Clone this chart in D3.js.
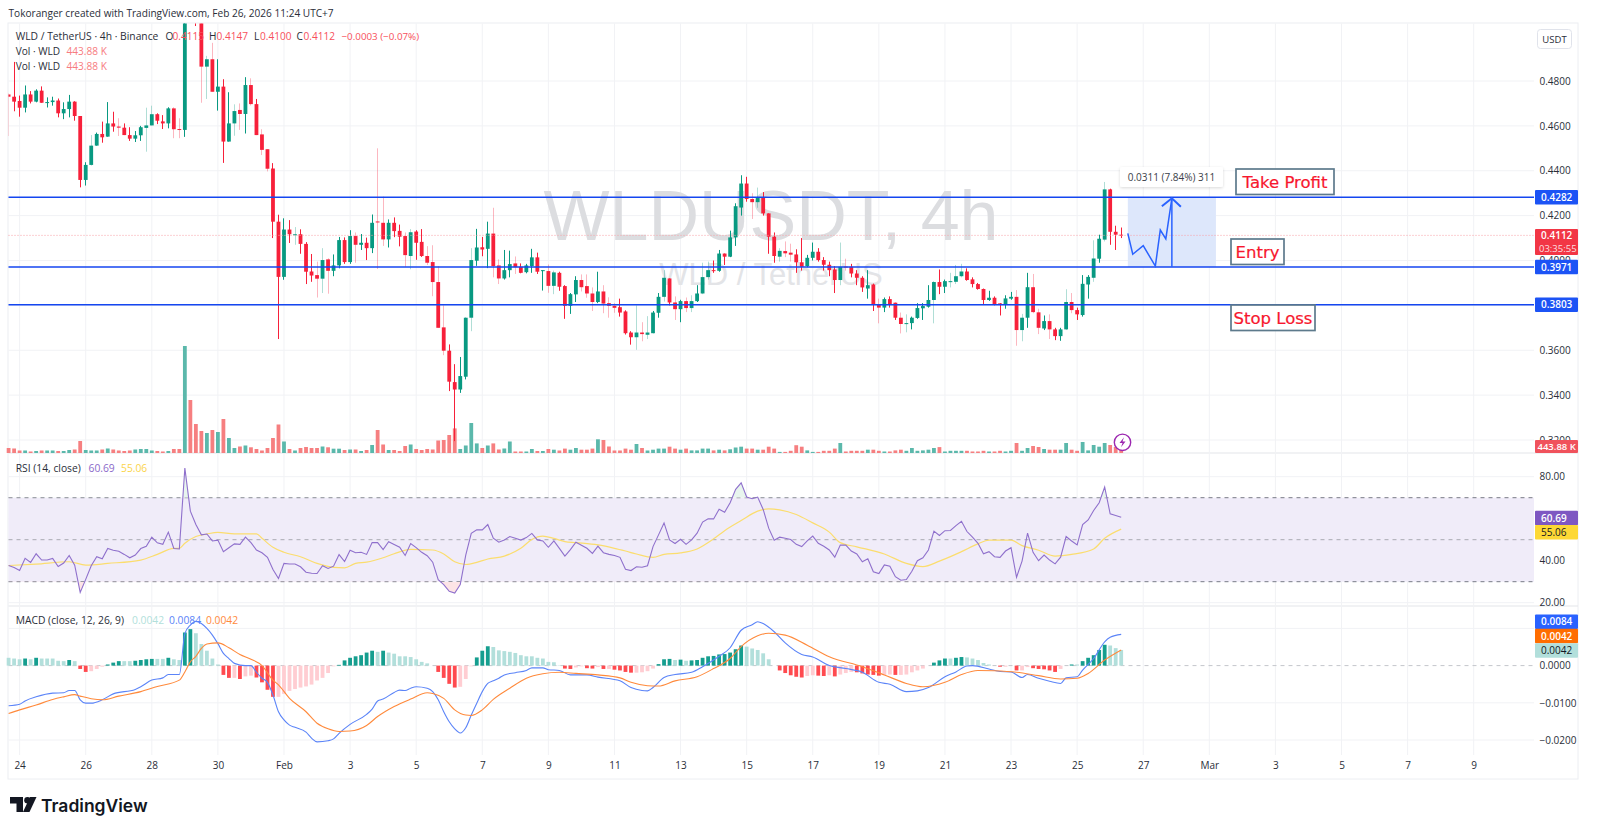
<!DOCTYPE html>
<html>
<head>
<meta charset="utf-8">
<title>WLDUSDT 4h</title>
<script src="https://cdn.jsdelivr.net/npm/d3@7/dist/d3.min.js"></script>
<style>
  html, body { margin: 0; padding: 0; background: #fff; }
  svg { display: block; }
  text { font-family: "Open Sans", sans-serif; }
</style>
</head>
<body>
<script>
// candles, one row per 10 bars
var opens = [
  .4740,.4730,.4711,.4681,.4740,.4708,.4757,.4703,.4706,.4713,
  .4656,.4675,.4708,.4644,.4359,.4426,.4512,.4564,.4552,.4611,
  .4597,.4592,.4559,.4543,.4558,.4591,.4602,.4652,.4620,.4611,
  .4678,.4586,.4582,.5250,.5120,.5095,.4864,.4897,.4752,.4775,
  .4530,.4611,.4671,.4653,.4782,.4697,.4562,.4496,.4410,.4173,
  .3927,.4138,.4115,.4117,.4074,.3951,.3935,.3919,.4005,.3954,
  .3978,.4091,.3993,.4109,.4070,.4079,.4055,.4174,.4168,.4094,
  .4168,.4132,.4109,.4020,.4129,.4083,.4020,.3993,.3904,.3702,
  .3598,.3458,.3425,.3482,.3745,.3999,.4059,.4052,.4120,.3978,
  .3920,.3957,.3987,.3972,.3948,.3975,.4014,.3954,.3953,.3887,
  .3945,.3886,.3798,.3849,.3913,.3886,.3853,.3815,.3862,.3810,
  .3798,.3792,.3773,.3679,.3658,.3679,.3669,.3676,.3767,.3838,
  .3920,.3813,.3783,.3819,.3788,.3819,.3853,.3926,.3957,.3954,
  .4031,.4017,.4103,.4236,.4343,.4274,.4260,.4282,.4210,.4106,
  .4017,.4042,.4035,.4027,.3992,.3975,.4012,.4039,.4002,.3981,
  .3960,.3913,.3973,.3972,.3942,.3923,.3875,.3893,.3806,.3790,
  .3828,.3812,.3745,.3717,.3721,.3744,.3787,.3794,.3824,.3904,
  .3883,.3905,.3905,.3930,.3951,.3916,.3895,.3873,.3824,.3834,
  .3809,.3806,.3830,.3838,.3690,.3745,.3881,.3769,.3697,.3730,
  .3693,.3663,.3693,.3815,.3779,.3757,.3893,.3923,.4008,.4093,
  .4317,.4128,.4115
];
var closes = [
  .4730,.4708,.4681,.4740,.4708,.4757,.4703,.4706,.4713,.4656,
  .4675,.4708,.4644,.4359,.4426,.4512,.4564,.4549,.4611,.4597,
  .4592,.4559,.4543,.4558,.4594,.4602,.4652,.4623,.4611,.4678,
  .4585,.4585,.5250,.5120,.5095,.4864,.4897,.4752,.4775,.4530,
  .4611,.4666,.4653,.4782,.4697,.4559,.4493,.4409,.4173,.3927,
  .4138,.4117,.4117,.4074,.3950,.3933,.3919,.4002,.3954,.3978,
  .4091,.3993,.4109,.4070,.4079,.4055,.4168,.4171,.4094,.4168,
  .4131,.4106,.4024,.4126,.4079,.4020,.3990,.3904,.3700,.3598,
  .3460,.3425,.3485,.3745,.4002,.4058,.4049,.4120,.3975,.3920,
  .3957,.3984,.3970,.3945,.3978,.4014,.3950,.3957,.3887,.3947,
  .3883,.3798,.3850,.3913,.3881,.3853,.3815,.3862,.3808,.3798,
  .3789,.3768,.3676,.3658,.3679,.3672,.3679,.3768,.3838,.3923,
  .3813,.3783,.3819,.3788,.3819,.3853,.3926,.3957,.3953,.4031,
  .4017,.4103,.4242,.4343,.4274,.4260,.4282,.4210,.4106,.4020,
  .4043,.4032,.4026,.3992,.3972,.4012,.4039,.4002,.3981,.3957,
  .3913,.3972,.3970,.3942,.3923,.3880,.3890,.3806,.3790,.3828,
  .3806,.3745,.3717,.3721,.3745,.3788,.3797,.3824,.3904,.3883,
  .3908,.3908,.3930,.3951,.3913,.3895,.3873,.3824,.3834,.3806,
  .3806,.3831,.3838,.3690,.3745,.3881,.3770,.3700,.3730,.3693,
  .3663,.3693,.3815,.3779,.3760,.3896,.3927,.4009,.4097,.4317,
  .4128,.4115,.4112
];
var highs = [
  .4745,.4885,.4735,.4780,.4755,.4763,.4776,.4727,.4730,.4722,
  .4705,.4738,.4710,.4644,.4438,.4559,.4570,.4619,.4706,.4663,
  .4634,.4611,.4594,.4577,.4600,.4681,.4690,.4656,.4648,.4683,
  .4683,.4634,.5400,.5500,.5200,.5150,.4912,.4970,.4897,.4808,
  .4750,.4696,.4700,.4817,.4812,.4720,.4585,.4496,.4434,.4204,
  .4188,.4180,.4149,.4139,.4082,.4029,.3995,.4055,.4010,.4027,
  .4105,.4103,.4135,.4125,.4118,.4102,.4205,.4500,.4285,.4183,
  .4192,.4160,.4125,.4140,.4135,.4140,.4064,.4068,.3975,.3800,
  .3626,.3538,.3570,.3745,.4055,.4141,.4105,.4173,.4235,.4005,
  .4047,.4044,.4018,.3987,.3985,.4052,.4035,.3957,.3982,.3955,
  .3950,.3890,.3855,.3930,.3938,.3938,.3880,.3950,.3890,.3836,
  .3810,.3830,.3778,.3685,.3800,.3725,.3752,.3775,.3855,.3957,
  .3920,.3840,.3825,.3835,.3845,.3890,.3990,.3995,.4000,.4047,
  .4031,.4133,.4255,.4380,.4373,.4300,.4325,.4305,.4210,.4125,
  .4055,.4085,.4075,.4050,.4100,.4025,.4080,.4055,.4015,.3995,
  .3975,.4080,.4008,.3985,.3957,.3930,.3957,.3897,.3830,.3835,
  .3840,.3812,.3768,.3760,.3750,.3810,.3810,.3890,.3908,.3960,
  .3915,.3945,.3980,.3985,.3965,.3925,.3900,.3875,.3865,.3840,
  .3810,.3845,.3860,.3868,.3762,.3945,.3940,.3785,.3755,.3760,
  .3700,.3700,.3872,.3855,.3790,.3935,.3935,.4090,.4115,.4350,
  .4320,.4155,.4147
];
var lows = [
  .4555,.4665,.4641,.4660,.4700,.4705,.4703,.4682,.4690,.4638,
  .4630,.4638,.4623,.4326,.4334,.4423,.4512,.4525,.4552,.4574,
  .4555,.4559,.4533,.4528,.4533,.4485,.4602,.4608,.4586,.4589,
  .4545,.4545,.4551,.5070,.5045,.4703,.4720,.4752,.4668,.4435,
  .4530,.4556,.4582,.4566,.4691,.4559,.4470,.4397,.4100,.3650,
  .3914,.4078,.4070,.4030,.3895,.3905,.3835,.3855,.3852,.3930,
  .3965,.3985,.3985,.3990,.4047,.4002,.4033,.3962,.4065,.4058,
  .4104,.4063,.3972,.3961,.4003,.4016,.3980,.3841,.3700,.3578,
  .3418,.3195,.3410,.3470,.3685,.3976,.4019,.3966,.3925,.3895,
  .3915,.3925,.3940,.3943,.3943,.3945,.3940,.3866,.3856,.3850,
  .3865,.3740,.3762,.3815,.3862,.3834,.3775,.3810,.3765,.3745,
  .3767,.3750,.3670,.3625,.3602,.3640,.3650,.3676,.3745,.3817,
  .3800,.3735,.3725,.3770,.3770,.3815,.3850,.3915,.3945,.3950,
  .3980,.4015,.4065,.4200,.4262,.4185,.4235,.4200,.4030,.3990,
  .3995,.4015,.3995,.3945,.3955,.3970,.4000,.3995,.3955,.3930,
  .3855,.3890,.3955,.3925,.3890,.3860,.3830,.3775,.3720,.3770,
  .3790,.3735,.3675,.3680,.3693,.3740,.3735,.3790,.3720,.3850,
  .3855,.3880,.3895,.3925,.3910,.3880,.3870,.3805,.3820,.3800,
  .3755,.3785,.3825,.3620,.3640,.3700,.3765,.3672,.3690,.3650,
  .3645,.3642,.3690,.3765,.3735,.3750,.3830,.3905,.3990,.4085,
  .4070,.4047,.4100
];
// volume in thousands
var volumes = [
  275,248,138,138,83,110,138,138,138,110,
  110,165,193,660,165,138,138,193,248,193,
  138,110,138,193,220,220,138,110,83,110,
  220,220,5885,2915,1595,1210,1100,1265,1155,1870,
  825,275,358,413,314,220,138,275,825,1568,
  633,220,138,275,330,275,275,358,314,237,
  237,165,193,193,110,165,440,1265,468,165,
  165,110,385,468,220,165,220,193,688,715,
  990,1353,220,413,1650,528,275,413,528,193,
  248,633,83,83,83,220,110,110,220,182,
  138,242,182,275,182,182,242,754,715,358,
  138,138,242,182,495,275,138,182,242,242,
  347,242,182,242,143,143,242,242,143,182,
  143,204,303,347,242,242,182,182,347,242,
  61,61,121,429,347,143,61,61,121,121,
  242,550,83,121,121,121,182,182,121,83,
  83,143,182,121,275,121,143,182,275,325,
  83,121,121,121,121,83,83,121,83,83,
  121,83,121,550,121,275,385,330,220,182,
  182,182,550,182,121,605,143,440,347,550,
  440,330,443.88
];
var rsi = [
  37.7,36.8,35.3,41.1,39.2,43.3,40.3,40.3,41.1,37.2,
  38.9,42.5,37.9,24.9,31.1,37.6,41.9,40.9,45.8,45.0,
  44.5,43.0,41.4,42.7,45.8,46.9,51.2,48.5,47.8,53.6,
  45.8,45.6,84.1,63.6,57.2,52.3,52.7,49.4,49.8,44.3,
  46.2,48.0,47.8,51.2,48.6,45.1,43.8,41.6,35.8,31.5,
  38.7,38.4,38.4,37.1,34.5,34.0,33.9,37.6,36.3,37.4,
  42.9,39.6,45.0,43.8,44.0,43.0,48.6,48.6,45.3,49.0,
  47.7,46.4,42.5,48.2,46.2,44.0,42.4,39.3,31.0,28.6,
  25.4,24.6,28.6,42.7,53.0,54.7,54.7,57.2,50.7,48.8,
  49.9,51.5,50.7,49.8,51.0,53.0,49.9,49.4,46.4,49.4,
  45.9,42.2,45.3,48.8,47.4,45.9,43.5,46.9,43.8,43.0,
  42.5,41.6,35.9,35.3,37.1,36.9,37.6,46.7,52.3,58.0,
  49.9,48.2,50.2,47.8,49.9,53.1,58.4,60.0,59.9,64.5,
  63.1,67.6,74.0,77.1,70.3,69.5,70.3,64.4,55.5,49.8,
  51.2,50.7,50.1,47.8,46.7,49.4,51.7,48.3,46.9,45.1,
  41.7,47.5,47.4,44.6,43.2,39.5,40.9,34.7,33.9,38.0,
  37.4,32.4,30.7,31.0,35.0,40.0,41.4,45.1,54.1,52.0,
  54.3,54.4,56.7,58.8,53.9,51.2,48.3,43.3,44.3,41.9,
  41.6,44.6,46.2,32.1,39.8,53.1,44.0,40.0,42.7,40.3,
  38.5,41.7,51.5,49.4,47.5,57.2,59.4,63.9,67.6,75.1,
  62.3,61.5,60.69
];
// RSI moving average, read at the bars listed in rsiMaBars
var rsiMaBars = [0,5,11,14,18,24,27,30,31,32,34,36,38,41,45,46,48,50,53,56,59,61,63,65,68,70,73,77,79,81,83,85,87,90,93,95,97,99,101,103,107,110,112,114,117,119,122,125,128,130,133,136,138,140,143,146,149,151,154,159,163,166,169,173,176,178,182,184,187,190,193,197,199,202];
var rsiMa = [37.7,38.4,39.5,37.9,38.7,40.3,43.0,45.9,45.9,48.3,51.5,52.7,53.5,52.8,52.8,50.7,46.4,44.0,41.9,38.7,36.8,36.6,38.7,39.3,41.4,43.3,45.4,45.1,43.2,39.5,38.2,39.2,40.8,42.2,45.9,50.1,51.7,50.6,49.1,48.6,47.5,45.9,44.6,43.2,41.6,43.0,43.7,45.6,50.4,54.3,59.1,63.6,64.7,64.2,62.0,58.0,53.6,48.6,46.6,43.2,38.7,37.2,39.8,44.3,48.0,49.8,49.8,47.2,45.0,42.2,43.0,45.6,50.7,55.06];
// MACD histogram in units of 0.0001
var macdHist = [
  21,19,17,19,17,21,19,19,19,13,
  12,15,12,-9,-17,-15,-9,-3,3,8,
  12,12,12,13,15,17,18,18,18,21,
  17,15,89,98,87,58,40,19,3,-25,
  -33,-33,-36,-29,-27,-32,-45,-65,-84,-84,
  -76,-68,-63,-59,-56,-51,-40,-33,-20,-2,
  2,14,21,25,28,35,40,37,40,35,
  32,25,25,23,17,10,6,0,-17,-33,
  -49,-59,-57,-36,-2,22,40,52,50,41,
  39,37,34,28,25,25,21,19,10,9,
  1,-8,-9,-5,-2,-7,-8,-4,-9,-9,
  -11,-13,-17,-19,-19,-18,-15,-8,4,17,
  18,15,16,13,14,15,21,25,26,30,
  31,35,44,54,51,46,42,33,17,0,
  -13,-20,-26,-30,-32,-28,-26,-27,-28,-26,
  -29,-24,-20,-17,-18,-21,-24,-25,-27,-25,
  -24,-25,-25,-24,-18,-13,-8,0,8,14,
  19,19,21,23,22,19,15,7,3,0,
  -3,-3,0,-13,-13,-4,-7,-9,-10,-13,
  -17,-9,0,3,3,12,21,28,42,56,
  54,47,42
];
var macdBars = [0,2,3,5,8,10,11,12,13,14,15,17,19,23,24,26,28,29,31,32,33,34,35,36,37,38,39,40,41,43,44,45,46,47,48,49,50,51,52,54,55,56,58,59,60,62,65,66,67,68,70,71,72,73,74,76,77,78,79,80,81,82,83,84,85,86,87,88,89,90,92,94,95,97,98,100,102,105,107,111,113,115,116,117,119,121,124,126,129,131,133,135,136,137,139,141,144,146,149,152,155,158,160,163,165,167,170,172,174,175,178,180,182,184,185,187,189,191,192,194,195,197,199,200,202];
var macdLine = [-.0108,-.0104,-.0095,-.0084,-.0074,-.0073,-.0067,-.0067,-.0092,-.0101,-.0101,-.0092,-.0076,-.0064,-.0057,-.0039,-.0033,-.0024,-.0024,.0086,.0109,.0119,.0113,.0100,.0082,.0059,.0033,.0019,.0006,0,0,-.0018,-.0034,-.0045,-.0079,-.0124,-.0146,-.0160,-.0166,-.0179,-.0195,-.0205,-.0202,-.0197,-.0182,-.0158,-.0131,-.0117,-.0095,-.0090,-.0072,-.0066,-.0067,-.0061,-.0057,-.0061,-.0070,-.0092,-.0124,-.0151,-.0170,-.0181,-.0167,-.0133,-.0101,-.0070,-.0048,-.0041,-.0034,-.0025,-.0019,-.0013,-.0006,-.0006,-.0011,-.0013,-.0025,-.0025,-.0031,-.0041,-.0059,-.0067,-.0068,-.0059,-.0032,-.0024,-.0018,-.0003,.0025,.0048,.0095,.0110,.0118,.0113,.0091,.0061,.0030,.0023,0,-.0008,-.0018,-.0045,-.0050,-.0070,-.0068,-.0059,-.0030,-.0017,-.0001,0,-.0009,-.0016,-.0017,-.0032,-.0024,-.0034,-.0042,-.0048,-.0033,-.0030,-.0012,.0019,.0064,.0076,.0084];
var signalBars = [0,2,5,8,10,12,13,15,17,20,24,27,31,32,33,34,35,36,38,40,42,44,46,48,49,51,54,56,58,60,62,65,67,70,73,76,77,79,81,83,84,86,88,91,94,97,100,103,107,111,113,116,118,121,125,128,131,133,136,138,141,145,149,155,159,163,166,170,173,176,179,183,187,191,194,196,199,202];
var signalLine = [-.0129,-.0119,-.0106,-.0091,-.0084,-.0078,-.0082,-.0089,-.0092,-.0082,-.0070,-.0056,-.0039,-.0017,.0010,.0025,.0046,.0058,.0061,.0048,.0030,.0017,0,-.0039,-.0052,-.0088,-.0124,-.0155,-.0170,-.0177,-.0176,-.0161,-.0137,-.0110,-.0090,-.0073,-.0075,-.0088,-.0119,-.0133,-.0134,-.0119,-.0091,-.0061,-.0034,-.0022,-.0018,-.0021,-.0025,-.0033,-.0045,-.0054,-.0055,-.0041,-.0030,-.0008,.0019,.0051,.0080,.0087,.0082,.0055,.0024,-.0003,-.0025,-.0048,-.0057,-.0045,-.0024,-.0013,-.0014,-.0018,-.0027,-.0036,-.0034,-.0021,.0015,.0042];

// axis ticks
var dayBars = d3.range(2, 267, 12);
var dayLabels = ["24","26","28","30","Feb","3","5","7","9","11","13","15","17","19","21","23","25","27","Mar","3","5","7","9"];
var priceTicks = [.48,.46,.44,.42,.40,.38,.36,.34,.32];
var rsiTicks = [80,60,40,20];
var rsiBands = [70,50,30];
var macdTicks = [0,-.01,-.02];

// drawn levels and the projection
var levels = [.4282,.3971,.3803];
var levelLabels = ["Take Profit","Entry","Stop Loss"];
var rangeBars = [203.2,219.2];
var pathBars = [203.2,204.1,206,208.2,209.1,210.1,211.2];
var pathPrices = [.4121,.4028,.4066,.3975,.4136,.4096,.4277];
var lastPrice = .4112;

// bars whose wick looks washed out in the screenshot
var paleWicks = [0,15,20,25,26,30,31,35,36,37,41,42,44,46,47,52,56,57,58,63,67,68,72,73,76,77,78,79,84,88,89,92,98,99,104,105,106,108,109,110,114,115,116,119,121,123,124,126,127,135,136,140,141,142,151,152,158,162,163,168,171,172,173,183,184,186,187,189,192,193,197,199];

var width = 1600, height = 832;
var paneLeft = 8.5, paneRight = 1534, frameRight = 1578;
var mainTop = 23.5, mainBottom = 453, rsiBottom = 606, macdBottom = 755, frameBottom = 779;

var up = "#089981", down = "#f7203a";
var grid = "#f1f2f5";
var txt = "#2a2e39";

var x = d3.scaleLinear().domain([0, 266]).range([8.6, 1473.7]);
var yPrice = d3.scaleLinear().domain([.32, .48]).range([440, 81]);
var yVol = d3.scaleLinear().domain([0, 5885]).range([453, 346]);
var yRsi = d3.scaleLinear().domain([20, 80]).range([602.7, 476.7]);
var yMacd = d3.scaleLinear().domain([-.02, 0]).range([740, 665.6]);

var svg = d3.select("body").append("svg").attr("width", width).attr("height", height);
var defs = svg.append("defs");

function clip(id, y0, y1) {
  defs.append("clipPath").attr("id", id).append("rect")
    .attr("x", paneLeft).attr("y", y0).attr("width", paneRight - paneLeft).attr("height", y1 - y0);
}
clip("clip-main", mainTop, mainBottom);
clip("clip-over", yRsi(100), yRsi(70));
clip("clip-under", yRsi(30), rsiBottom);

var shadow = defs.append("filter").attr("id", "shadow").attr("x", "-20%").attr("y", "-40%").attr("width", "140%").attr("height", "180%");
shadow.append("feDropShadow").attr("dx", 0).attr("dy", 1).attr("stdDeviation", 1.5).attr("flood-color", "#000").attr("flood-opacity", .15);

// frame and separators
svg.append("rect").attr("x", paneLeft - .5).attr("y", mainTop - .5)
  .attr("width", frameRight - paneLeft + .5).attr("height", frameBottom - mainTop + .5)
  .attr("fill", "none").attr("stroke", "#eceef2");
[mainBottom, rsiBottom].forEach(function(y) {
  svg.append("line").attr("x1", paneLeft).attr("x2", frameRight).attr("y1", y).attr("y2", y)
    .attr("stroke", "#e4e6ea").attr("stroke-width", 1.2);
});

// grid
var gridG = svg.append("g");
gridG.selectAll(".v").data(dayBars).enter().append("line")
  .attr("x1", x).attr("x2", x).attr("y1", mainTop).attr("y2", macdBottom)
  .attr("stroke", grid);
function hGrid(values, scale) {
  gridG.selectAll(null).data(values).enter().append("line")
    .attr("x1", paneLeft).attr("x2", paneRight)
    .attr("y1", scale).attr("y2", scale).attr("stroke", grid);
}
hGrid(priceTicks, yPrice);
hGrid(rsiTicks, yRsi);
hGrid([.01, -.01, -.02], yMacd);

// watermark sits under the candles
svg.append("text").attr("x", 771).attr("y", 240).attr("text-anchor", "middle")
  .style("font-family", "'Liberation Sans'").style("font-size", "70px").attr("fill", "#dcdde0")
  .text("WLDUSDT, 4h");
svg.append("text").attr("x", 771).attr("y", 285).attr("text-anchor", "middle")
  .style("font-family", "'Liberation Sans'").style("font-size", "31px").attr("fill", "#e3e4e7")
  .text("WLD / TetherUS");

// target box goes under the candles too
svg.append("rect").attr("x", x(rangeBars[0])).attr("width", x(rangeBars[1]) - x(rangeBars[0]))
  .attr("y", yPrice(levels[0])).attr("height", yPrice(levels[1]) - yPrice(levels[0]))
  .attr("fill", "#dde7fb");

// volume
var bars = d3.range(volumes.length);
var bodyW = 3.8;
svg.append("g").selectAll("rect").data(bars).enter().append("rect")
  .attr("x", function(i) { return x(i) - bodyW / 2; })
  .attr("width", bodyW)
  .attr("y", function(i) { return yVol(volumes[i]); })
  .attr("height", function(i) { return yVol(0) - yVol(volumes[i]); })
  .attr("fill", function(i) { return closes[i] >= opens[i] ? "#5bb8ab" : "#f67f80"; });

// candles
function wickX(i) { return Math.floor(x(i)) + .5; }
var candles = svg.append("g").attr("clip-path", "url(#clip-main)");
candles.selectAll("line").data(bars).enter().append("line")
  .attr("x1", wickX).attr("x2", wickX)
  .attr("y1", function(i) { return yPrice(highs[i]); })
  .attr("y2", function(i) { return yPrice(lows[i]); })
  .attr("stroke", function(i) { return closes[i] >= opens[i] ? up : down; })
  .attr("stroke-opacity", function(i) { return paleWicks.indexOf(i) >= 0 ? .32 : 1; });
candles.selectAll("rect").data(bars).enter().append("rect")
  .attr("x", function(i) { return x(i) - bodyW / 2; })
  .attr("width", bodyW)
  .attr("y", function(i) { return yPrice(Math.max(opens[i], closes[i])); })
  .attr("height", function(i) { return Math.max(1, Math.abs(yPrice(opens[i]) - yPrice(closes[i]))); })
  .attr("fill", function(i) { return closes[i] >= opens[i] ? up : down; });

// last price line and the three levels
svg.append("line").attr("x1", paneLeft).attr("x2", paneRight)
  .attr("y1", yPrice(lastPrice)).attr("y2", yPrice(lastPrice))
  .attr("stroke", "#f7a0a8").attr("stroke-dasharray", "1 2");
svg.append("g").selectAll("line").data(levels).enter().append("line")
  .attr("x1", paneLeft).attr("x2", paneRight)
  .attr("y1", yPrice).attr("y2", yPrice)
  .attr("stroke", "#1446f0").attr("stroke-width", 1.6);

// projection path and arrow
var pathLine = d3.line().x(function(i) { return x(pathBars[i]); }).y(function(i) { return yPrice(pathPrices[i]); });
svg.append("path").attr("d", pathLine(d3.range(pathBars.length)))
  .attr("fill", "none").attr("stroke", "#2962ff").attr("stroke-width", 1.5);
var arrowX = x(pathBars[pathBars.length - 1]);
svg.append("line").attr("x1", arrowX).attr("x2", arrowX)
  .attr("y1", yPrice(levels[1])).attr("y2", yPrice(levels[0]) + 1)
  .attr("stroke", "#2962ff").attr("stroke-width", 1.5);
svg.append("path")
  .attr("d", "M" + (arrowX - 10) + "," + (yPrice(levels[0]) + 9) + "L" + arrowX + "," + (yPrice(levels[0]) + 1) + "L" + (arrowX + 9) + "," + (yPrice(levels[0]) + 9.5))
  .attr("fill", "none").attr("stroke", "#2962ff").attr("stroke-width", 2);

// range tooltip
svg.append("rect").attr("x", 1120).attr("y", 167).attr("width", 103).attr("height", 20).attr("rx", 2)
  .attr("fill", "#fff").attr("filter", "url(#shadow)");
svg.append("text").attr("x", 1171.5).attr("y", 180.5).attr("text-anchor", "middle")
  .style("font-size", "10px").attr("fill", "#3a3e49").text("0.0311 (7.84%) 311");

// Take Profit / Entry / Stop Loss notes
var noteBoxes = [[1236,169,98,25.5],[1231,239,53,25.5],[1231,305,84,25.5]];
noteBoxes.forEach(function(b, k) {
  svg.append("rect").attr("x", b[0]).attr("y", b[1]).attr("width", b[2]).attr("height", b[3])
    .attr("fill", "#fff").attr("stroke", "#5d7a8c").attr("stroke-width", 1.7);
  svg.append("text").attr("x", b[0] + b[2] / 2).attr("y", b[1] + 18.5).attr("text-anchor", "middle")
    .style("font-family", "'DejaVu Sans'").style("font-size", "16.5px").attr("fill", "#f7172e")
    .attr("stroke", "#f7172e").attr("stroke-width", .2)
    .text(levelLabels[k]);
});

// RSI pane
svg.append("rect").attr("x", paneLeft).attr("width", paneRight - paneLeft)
  .attr("y", yRsi(70)).attr("height", yRsi(30) - yRsi(70)).attr("fill", "#f0ecf9");
svg.append("g").selectAll("line").data(rsiBands).enter().append("line")
  .attr("x1", paneLeft).attr("x2", paneRight).attr("y1", yRsi).attr("y2", yRsi)
  .attr("stroke", function(v) { return v === 50 ? "#a9a9b2" : "#787b86"; })
  .attr("stroke-dasharray", "4 4");
var rsiArea = d3.area().x(function(i) { return x(i); }).y1(function(i) { return yRsi(rsi[i]); });
svg.append("path").attr("clip-path", "url(#clip-over)")
  .attr("d", rsiArea.y0(yRsi(70))(bars)).attr("fill", "#e8f5ee");
svg.append("path").attr("clip-path", "url(#clip-under)")
  .attr("d", rsiArea.y0(yRsi(30))(bars)).attr("fill", "#fde4e6");
var rsiPath = d3.line().x(function(i) { return x(i); }).y(function(i) { return yRsi(rsi[i]); });
var rsiMaPath = d3.line().curve(d3.curveMonotoneX)
  .x(function(i) { return x(rsiMaBars[i]); }).y(function(i) { return yRsi(rsiMa[i]); });
svg.append("path").attr("d", rsiMaPath(d3.range(rsiMaBars.length)))
  .attr("fill", "none").attr("stroke", "#fbdd6e").attr("stroke-width", 1.2);
svg.append("path").attr("d", rsiPath(bars))
  .attr("fill", "none").attr("stroke", "#8f70cc").attr("stroke-width", 1.1);

// MACD pane
svg.append("line").attr("x1", paneLeft).attr("x2", paneRight)
  .attr("y1", yMacd(0)).attr("y2", yMacd(0))
  .attr("stroke", "#c4c6cc").attr("stroke-dasharray", "4 4");
function histColor(i) {
  var v = macdHist[i], prev = i > 0 ? macdHist[i - 1] : v;
  if (v >= 0) return v > prev ? "#159e8f" : "#b2dfdb";
  return v < prev ? "#ff4a4f" : "#ffcdd2";
}
svg.append("g").selectAll("rect").data(bars).enter().append("rect")
  .attr("x", function(i) { return x(i) - bodyW / 2; })
  .attr("width", bodyW)
  .attr("y", function(i) { return yMacd(Math.max(0, macdHist[i] / 10000)); })
  .attr("height", function(i) { return Math.abs(yMacd(macdHist[i] / 10000) - yMacd(0)); })
  .attr("fill", histColor);
var macdPath = d3.line().curve(d3.curveMonotoneX)
  .x(function(i) { return x(macdBars[i]); }).y(function(i) { return yMacd(macdLine[i]); });
var signalPath = d3.line().curve(d3.curveMonotoneX)
  .x(function(i) { return x(signalBars[i]); }).y(function(i) { return yMacd(signalLine[i]); });
svg.append("path").attr("d", macdPath(d3.range(macdBars.length)))
  .attr("fill", "none").attr("stroke", "#5b84f8").attr("stroke-width", 1.1);
svg.append("path").attr("d", signalPath(d3.range(signalBars.length)))
  .attr("fill", "none").attr("stroke", "#ff8a3c").attr("stroke-width", 1.1);

// axes
var timeAxis = d3.axisBottom(x).tickValues(dayBars)
  .tickFormat(function(d, k) { return dayLabels[k]; }).tickSize(0);
var gTime = svg.append("g").attr("transform", "translate(0,759)").call(timeAxis);
function rightAxis(scale, values, fmt) {
  var g = svg.append("g").attr("transform", "translate(1536.5,0)")
    .call(d3.axisRight(scale).tickValues(values).tickFormat(fmt).tickSize(0));
  return g;
}
var axes = [
  gTime,
  rightAxis(yPrice, priceTicks, d3.format(".4f")),
  rightAxis(yRsi, rsiTicks, d3.format(".2f")),
  rightAxis(yMacd, macdTicks, function(v) { return d3.format(".4f")(v).replace("-", "\u2212"); })
];
axes.forEach(function(g) {
  g.select(".domain").remove();
  g.selectAll("text").style("font-size", "10px").style("font-family", "'Open Sans'").attr("fill", txt);
});

// price tags on the axis
function tag(value, y, color, textColor, h, second) {
  var g = svg.append("g");
  g.append("rect").attr("x", 1535).attr("y", y - h / 2).attr("width", 43).attr("height", h)
    .attr("fill", color).attr("rx", 1);
  g.append("text").attr("x", value.length > 6 ? 1537.5 : 1541).attr("y", second ? y - 3.5 : y + 3.5)
    .style("font-size", value.length > 6 ? "9.5px" : "10px")
    .style("font-weight", textColor === "#fff" ? 600 : 400).attr("fill", textColor).text(value);
  if (second) {
    g.append("text").attr("x", 1539).attr("y", y + 9.5)
      .style("font-size", "9.5px").attr("fill", textColor).attr("fill-opacity", .85).text(second);
  }
}
tag("0.4282", yPrice(levels[0]), "#1c53f5", "#fff", 14.5);
tag("0.4112", 242, "#f23645", "#fff", 26, "03:35:55");
tag("0.3971", yPrice(levels[1]), "#1c53f5", "#fff", 14.5);
tag("0.3803", yPrice(levels[2]), "#1c53f5", "#fff", 14.5);
tag("443.88 K", 446.5, "#f0525c", "#fff", 13);
tag("60.69", 518, "#7e57c2", "#fff", 14.5);
tag("55.06", 532.3, "#fdd835", "#131722", 14.5);
tag("0.0084", 621.7, "#2962ff", "#fff", 14.5);
tag("0.0042", 636, "#ff6d00", "#fff", 14.5);
tag("0.0042", 650.5, "#b2dfdb", "#131722", 14.5);

svg.append("rect").attr("x", 1537.5).attr("y", 29.5).attr("width", 34).attr("height", 19).attr("rx", 3)
  .attr("fill", "#fff").attr("stroke", "#e0e3eb");
svg.append("text").attr("x", 1554.5).attr("y", 42.5).attr("text-anchor", "middle")
  .style("font-size", "9.5px").attr("fill", txt).text("USDT");

// volume alert badge
var badge = svg.append("g").attr("transform", "translate(1122.5,442.3)");
badge.append("circle").attr("r", 8.2).attr("fill", "#fff").attr("stroke", "#9c27b0").attr("stroke-width", 1.4);
badge.append("path").attr("d", "M1.5,-5L-3,0.8H0L-1.5,5L3,-0.8H0Z").attr("fill", "#9c27b0");

// legends, drawn last so they sit over the candles
function label(xPos, y, str, color, size) {
  return svg.append("text").attr("x", xPos).attr("y", y)
    .style("font-size", (size || 10.1) + "px").attr("fill", color).text(str);
}
label(8.5, 17, "Tokoranger created with TradingView.com, Feb 26, 2026 11:24 UTC+7", "#2a2e39");
var priceRed = "#f7505c", volRed = "#f77c80";
label(15.7, 40, "WLD / TetherUS \u00b7 4h \u00b7 Binance", txt, 10.3);
label(165.5, 40, "O", txt); label(172.5, 40, "0.4115", priceRed);
label(209, 40, "H", txt); label(216.5, 40, "0.4147", priceRed);
label(254, 40, "L", txt); label(260, 40, "0.4100", priceRed);
label(296.5, 40, "C", txt); label(303.5, 40, "0.4112", priceRed);
label(341.5, 40, "\u22120.0003 (\u22120.07%)", priceRed, 9.8);
[55, 70].forEach(function(y) {
  label(15.7, y, "Vol \u00b7 WLD", txt);
  label(66.5, y, "443.88 K", volRed);
});
label(15.7, 471.5, "RSI (14, close)", txt, 10.3);
label(88.5, 471.5, "60.69", "#8a68c9", 10.3);
label(121, 471.5, "55.06", "#fbd44a", 10.3);
label(15.7, 624, "MACD (close, 12, 26, 9)", txt, 10.3);
label(132, 624, "0.0042", "#b2dfdb", 10.3);
label(169, 624, "0.0084", "#5b84f8", 10.3);
label(206, 624, "0.0042", "#ff8a3c", 10.3);

// TradingView mark
var logo = svg.append("g").attr("transform", "translate(10,797)").attr("fill", "#131722");
logo.append("path").attr("d", "M0,0H13V15H6.5V6.5H0Z");
logo.append("circle").attr("cx", 17.5).attr("cy", 3.3).attr("r", 3.3);
logo.append("path").attr("d", "M19.5,15H13L20,0H26.5Z");
svg.append("text").attr("x", 41).attr("y", 811.5)
  .style("font-family", "'Inter'").style("font-size", "17.5px").style("font-weight", 600)
  .attr("fill", "#131722").text("TradingView");
</script>
</body>
</html>
